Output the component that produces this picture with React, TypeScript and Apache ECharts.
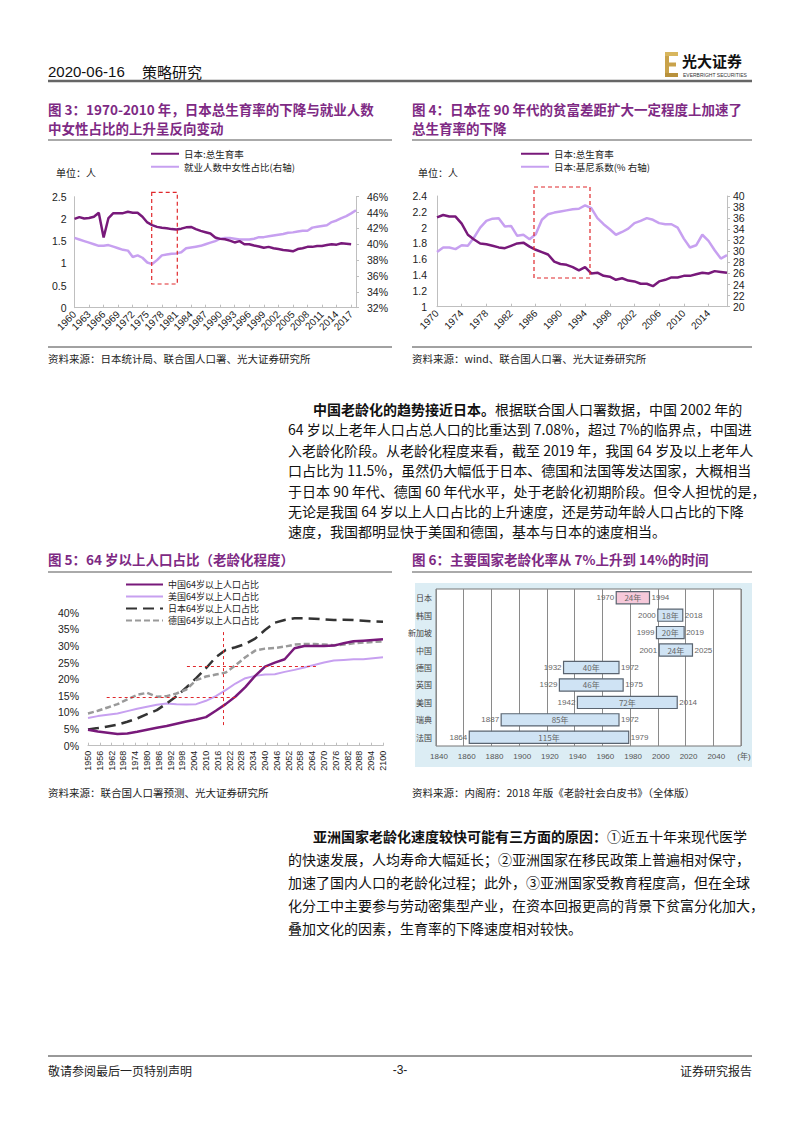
import React, { useEffect, useRef } from 'react';
import * as echarts from 'echarts';

const SANS = '"Liberation Sans", Arial, "Noto Sans CJK SC", sans-serif';
const CJK = '"Noto Sans CJK SC", "Liberation Sans", sans-serif';
const TITLE_PURPLE = '#7E2A84';
const DARK_PURPLE = '#78197A';
const LIGHT_PURPLE = '#C7A0F0';
const RED = '#E0282C';

// ---------- Figure 3 ----------
const fig3Years = ['1960','1961','1962','1963','1964','1965','1966','1967','1968','1969','1970','1971','1972','1973','1974','1975','1976','1977','1978','1979','1980','1981','1982','1983','1984','1985','1986','1987','1988','1989','1990','1991','1992','1993','1994','1995','1996','1997','1998','1999','2000','2001','2002','2003','2004','2005','2006','2007','2008','2009','2010','2011','2012','2013','2014','2015','2016','2017','2018'];
const fig3Tfr = [2.00,2.04,2.01,2.02,2.05,2.14,1.58,2.02,2.13,2.13,
  2.13,2.16,2.14,2.14,2.05,1.92,1.86,1.82,1.80,1.79,
  1.77,1.76,1.78,1.81,1.82,1.77,1.73,1.70,1.67,1.58,
  1.55,1.54,1.51,1.47,1.50,1.43,1.43,1.40,1.38,1.35,
  1.37,1.34,1.32,1.30,1.29,1.27,1.32,1.34,1.37,1.37,
  1.39,1.39,1.41,1.43,1.42,1.45,1.44,1.43,null];
const fig3Female = [40.8,40.6,40.4,40.2,40.0,39.8,39.8,39.9,39.7,39.5,
  39.3,39.2,38.4,38.6,38.3,37.7,37.5,38.0,38.6,38.7,
  38.8,38.85,39.0,39.5,39.6,39.7,39.8,40.0,40.2,40.4,
  40.7,40.8,40.8,40.7,40.6,40.6,40.6,40.7,40.9,40.9,
  41.0,41.1,41.2,41.3,41.45,41.5,41.6,41.7,41.7,42.1,
  42.2,42.3,42.4,42.8,43.0,43.3,43.55,43.9,44.3];

// ---------- Figure 4 ----------
const fig4Years = ['1970','1971','1972','1973','1974','1975','1976','1977','1978','1979','1980','1981','1982','1983','1984','1985','1986','1987','1988','1989','1990','1991','1992','1993','1994','1995','1996','1997','1998','1999','2000','2001','2002','2003','2004','2005','2006','2007','2008','2009','2010','2011','2012','2013','2014','2015','2016','2017'];
const fig4Tfr = [2.13,2.16,2.14,2.14,2.05,1.91,1.85,1.80,1.79,1.77,
  1.75,1.74,1.77,1.80,1.81,1.76,1.72,1.69,1.66,1.57,
  1.54,1.53,1.50,1.46,1.50,1.42,1.43,1.39,1.38,1.34,
  1.36,1.33,1.32,1.29,1.29,1.26,1.32,1.34,1.37,1.37,
  1.39,1.39,1.41,1.43,1.42,1.45,1.44,1.43];
const fig4Gini = [29.9,30.7,30.7,30.4,31.1,31.0,32.5,34.3,35.5,35.9,
  36.0,34.5,34.6,32.8,33.0,32.2,33.1,35.7,36.7,37.0,
  37.2,37.4,37.6,37.7,38.3,37.8,36.0,34.9,34.0,33.0,
  33.5,34.1,35.1,35.5,36.0,35.7,35.1,34.9,34.9,34.3,
  32.3,30.7,31.1,33.0,31.9,30.2,28.7,29.3];

// ---------- Figure 5 ----------
const fig5Years = [1950,1955,1960,1965,1970,1975,1980,1985,1990,1995,2000,2005,2010,2015,2020,2025,2030,2035,2040,2045,2050,2055,2060,2065,2070,2075,2080,2085,2090,2095,2100];
const fig5China = [4.8,4.3,3.9,3.5,3.7,4.2,4.8,5.4,5.9,6.6,7.3,7.9,8.6,10.5,12.5,14.8,17.6,21.0,23.8,25.0,26.0,29.3,30.0,30.0,30.0,30.1,30.8,31.4,31.6,31.8,32.0];
const fig5Usa = [8.3,8.9,9.3,9.7,10.4,11.1,11.7,12.3,12.7,12.5,12.4,12.5,13.5,14.9,16.7,18.7,20.3,21.0,21.4,21.5,22.2,22.8,23.5,24.3,25.0,25.6,25.8,26.0,26.0,26.3,26.6];
const fig5Japan = [4.9,5.3,5.8,6.3,7.2,8.2,9.5,10.7,12.7,14.9,17.5,20.3,23.3,26.6,28.8,29.6,30.6,32.2,34.8,37.0,37.8,38.3,38.3,38.2,38.0,37.8,37.9,37.8,37.6,37.4,37.3];
const fig5Germany = [9.7,10.5,11.5,12.5,13.9,15.3,15.9,14.7,14.9,15.7,16.9,19.7,20.8,21.4,22.0,24.2,26.6,28.6,29.2,29.4,29.8,30.4,30.6,30.6,30.4,30.2,30.4,30.8,31.0,31.2,31.4];
const fig5Names = ['中国64岁以上人口占比','美国64岁以上人口占比','日本64岁以上人口占比','德国64岁以上人口占比'];

// ---------- Figure 6 ----------
const fig6Countries = ['日本','韩国','新加坡','中国','德国','英国','美国','瑞典','法国'];
const fig6Start = [1970,2000,1999,2001,1932,1929,1942,1887,1864];
const fig6End = [1994,2018,2019,2025,1972,1975,2014,1972,1979];
const fig6Durations = ['24年','18年','20年','24年','40年','46年','72年','85年','115年'];

// ---------- Page text ----------
const para1 = [
  '根据联合国人口署数据，中国 2002 年的',
  '64 岁以上老年人口占总人口的比重达到 7.08%，超过 7%的临界点，中国进',
  '入老龄化阶段。从老龄化程度来看，截至 2019 年，我国 64 岁及以上老年人',
  '口占比为 11.5%，虽然仍大幅低于日本、德国和法国等发达国家，大概相当',
  '于日本 90 年代、德国 60 年代水平，处于老龄化初期阶段。但令人担忧的是，',
  '无论是我国 64 岁以上人口占比的上升速度，还是劳动年龄人口占比的下降',
  '速度，我国都明显快于美国和德国，基本与日本的速度相当。',
];
const para1Bold = '中国老龄化的趋势接近日本。';
const para2 = [
  '①近五十年来现代医学',
  '的快速发展，人均寿命大幅延长；②亚洲国家在移民政策上普遍相对保守，',
  '加速了国内人口的老龄化过程；此外，③亚洲国家受教育程度高，但在全球',
  '化分工中主要参与劳动密集型产业，在资本回报更高的背景下贫富分化加大，',
  '叠加文化的因素，生育率的下降速度相对较快。',
];
const para2Bold = '亚洲国家老龄化速度较快可能有三方面的原因：';

function txt(x: number, y: number, text: string, o: any = {}) {
  const style: any = {
    text,
    fill: o.color || '#222',
    fontSize: o.size || 12,
    fontFamily: o.family || CJK,
    fontWeight: o.weight || 'normal',
    align: o.align || 'left',
    verticalAlign: 'middle',
  };
  if (o.rich) style.rich = o.rich;
  return { type: 'text', x, y, silent: true, z: o.z ?? 10, style };
}
function ln(x1: number, y1: number, x2: number, y2: number, color: string, width: number, dash?: number[]) {
  return { type: 'line', silent: true, z: 10, shape: { x1, y1, x2, y2 }, style: { stroke: color, lineWidth: width, lineDash: dash } };
}
function dashedRect(x: number, y: number, w: number, h: number) {
  return { type: 'rect', silent: true, z: 20, shape: { x, y, width: w, height: h }, style: { fill: 'none', stroke: RED, lineWidth: 1.2, lineDash: [4, 3] } };
}

function buildOption(): any {
  const axisGray = '#BFBFBF';
  const labelColor = '#222';
  const graphic: any[] = [];

  // header
  graphic.push(txt(48, 71, '2020-06-16', { size: 15, family: SANS, color: '#111' }));
  graphic.push(txt(142, 71, '策略研究', { size: 15, color: '#111' }));
  graphic.push({ type: 'rect', silent: true, z: 10, shape: { x: 665, y: 52, width: 4, height: 25 }, style: { fill: '#C9A24A' } });
  graphic.push({ type: 'rect', silent: true, z: 10, shape: { x: 665, y: 52, width: 13, height: 4 }, style: { fill: '#D8B65E' } });
  graphic.push({ type: 'rect', silent: true, z: 10, shape: { x: 665, y: 62.5, width: 11, height: 4 }, style: { fill: '#C9A24A' } });
  graphic.push({ type: 'rect', silent: true, z: 10, shape: { x: 665, y: 73, width: 13, height: 4 }, style: { fill: '#B8913C' } });
  graphic.push(txt(682, 60, '光大证券', { size: 15, weight: 'bold', color: '#111' }));
  graphic.push(txt(683, 74.5, 'EVERBRIGHT SECURITIES', { size: 5, family: SANS, color: '#333' }));
  graphic.push(ln(48, 81, 752, 81, '#666', 2.5));

  // titles fig 3 / 4
  const tOpts = { size: 13.5, weight: 'bold', color: TITLE_PURPLE };
  graphic.push(txt(48, 109, '图 3：1970-2010 年，日本总生育率的下降与就业人数', tOpts));
  graphic.push(txt(48, 128, '中女性占比的上升呈反向变动', tOpts));
  graphic.push(ln(48, 140, 392, 140, '#AAAAAA', 2));
  graphic.push(txt(412, 109, '图 4：日本在 90 年代的贫富差距扩大一定程度上加速了', tOpts));
  graphic.push(txt(412, 128, '总生育率的下降', tOpts));
  graphic.push(ln(412, 140, 752, 140, '#AAAAAA', 2));

  graphic.push(txt(56, 172, '单位：人', { size: 10 }));
  graphic.push(txt(418, 172, '单位：人', { size: 10 }));

  graphic.push(dashedRect(151.7, 192.3, 25.6, 91.7));
  graphic.push(dashedRect(534, 187, 56, 91));

  graphic.push(ln(48, 347, 392, 347, '#444', 1));
  graphic.push(ln(412, 347, 752, 347, '#444', 1));
  graphic.push(txt(48, 358, '资料来源：日本统计局、联合国人口署、光大证券研究所', { size: 10.5 }));
  graphic.push(txt(412, 358, '资料来源：wind、联合国人口署、光大证券研究所', { size: 10.5 }));

  // paragraph 1
  const bodyRich = { b: { fontWeight: 'bold', fontSize: 14, fontFamily: CJK, fill: '#111', color: '#111' } };
  para1.forEach((line, i) => {
    if (i === 0) {
      graphic.push(txt(313, 409, '{b|' + para1Bold + '}' + line, { size: 14, color: '#111', rich: bodyRich }));
    } else {
      graphic.push(txt(288, 409 + i * 20.4, line, { size: 14, color: '#111' }));
    }
  });

  // titles fig 5 / 6
  graphic.push(txt(48, 559, '图 5：64 岁以上人口占比（老龄化程度）', tOpts));
  graphic.push(ln(48, 572, 392, 572, '#AAAAAA', 2));
  graphic.push(txt(412, 559, '图 6：主要国家老龄化率从 7%上升到 14%的时间', tOpts));
  graphic.push(ln(412, 572, 752, 572, '#AAAAAA', 2));

  // fig6 panel background
  graphic.push({ type: 'rect', silent: true, z: -10, shape: { x: 415, y: 583, width: 337, height: 184 }, style: { fill: '#DCEDF4' } });

  graphic.push(txt(48, 792, '资料来源：联合国人口署预测、光大证券研究所', { size: 10.5 }));
  graphic.push(txt(412, 792, '资料来源：内阁府：2018 年版《老龄社会白皮书》（全体版）', { size: 10.5 }));

  // paragraph 2
  para2.forEach((line, i) => {
    if (i === 0) {
      graphic.push(txt(313, 836, '{b|' + para2Bold + '}' + line, { size: 14, color: '#111', rich: bodyRich }));
    } else {
      graphic.push(txt(288, 836 + i * 23, line, { size: 14, color: '#111' }));
    }
  });

  // footer
  graphic.push(ln(48, 1056, 752, 1056, '#333', 1));
  graphic.push(txt(48, 1070, '敬请参阅最后一页特别声明', { size: 12, color: '#222' }));
  graphic.push(txt(400, 1070, '-3-', { size: 12, color: '#222', align: 'center', family: SANS }));
  graphic.push(txt(752, 1070, '证券研究报告', { size: 12, color: '#222', align: 'right' }));

  const legendBase = {
    orient: 'vertical', padding: 0, itemHeight: 10, itemGap: 2.5,
    itemStyle: { opacity: 0, borderWidth: 0 },
    textStyle: { fontSize: 9.5, lineHeight: 10.5, color: '#222', fontFamily: CJK },
  };

  return {
    animation: false,
    backgroundColor: '#fff',
    textStyle: { fontFamily: SANS },
    graphic: { elements: graphic },
    legend: [
      { ...legendBase, data: ['日本:总生育率', '就业人数中女性占比(右轴)'], left: 150, top: 148.5, itemWidth: 28 },
      { ...legendBase, data: ['日本:总生育率', '日本:基尼系数(% 右轴)'], left: 520, top: 148.5, itemWidth: 28 },
      {
        ...legendBase, data: fig5Names, left: 125, top: 579.5, itemWidth: 37, itemGap: 2,
        textStyle: { fontSize: 9, lineHeight: 10, color: '#222', fontFamily: CJK },
      },
    ],
    grid: [
      { left: 74.5, top: 196.7, width: 281.5, height: 111 },
      { left: 437, top: 196, width: 290, height: 110.7 },
      { left: 88, top: 612.7, width: 295, height: 133 },
      { left: 436, top: 589, width: 305, height: 157, show: true, backgroundColor: '#fff', borderColor: '#777', borderWidth: 1 },
    ],
    xAxis: [
      {
        gridIndex: 0, type: 'category', data: fig3Years, boundaryGap: false,
        axisLine: { lineStyle: { color: axisGray } },
        axisTick: { show: true, inside: true, length: 3, interval: 2, lineStyle: { color: axisGray } },
        axisLabel: { interval: 2, rotate: 45, fontSize: 10, color: labelColor, margin: 5 },
      },
      {
        gridIndex: 1, type: 'category', data: fig4Years, boundaryGap: false,
        axisLine: { lineStyle: { color: axisGray } },
        axisTick: { show: true, inside: true, length: 3, interval: 3, lineStyle: { color: axisGray } },
        axisLabel: { interval: 3, rotate: 45, fontSize: 10, color: labelColor, margin: 5 },
      },
      {
        gridIndex: 2, type: 'value', min: 1950, max: 2100, interval: 6,
        splitLine: { show: false },
        axisLine: { show: true, lineStyle: { color: axisGray } },
        axisTick: { show: true, inside: true, length: 3, lineStyle: { color: axisGray } },
        axisLabel: { rotate: 90, fontSize: 9, color: labelColor, margin: 5, formatter: (v: number) => String(v) },
      },
      {
        gridIndex: 3, type: 'value', min: 1840, max: 2060, interval: 20,
        splitLine: { show: true, lineStyle: { color: '#8A8A8A', width: 1 } },
        axisLine: { show: false }, axisTick: { show: false },
        axisLabel: { fontSize: 8, color: '#555', margin: 6, padding: [0, 0, 0, 6], formatter: (v: number) => (v === 2060 ? '(年)' : String(v)) },
      },
    ],
    yAxis: [
      {
        gridIndex: 0, type: 'value', min: 0, max: 2.5, interval: 0.5,
        splitLine: { show: false },
        axisLine: { show: true, lineStyle: { color: axisGray } }, axisTick: { show: false },
        axisLabel: { fontSize: 10.5, color: labelColor, margin: 8 },
      },
      {
        gridIndex: 0, type: 'value', min: 32, max: 46, interval: 2, position: 'right',
        splitLine: { show: false },
        axisLine: { show: true, lineStyle: { color: axisGray } },
        axisTick: { show: true, length: 3, lineStyle: { color: axisGray } },
        axisLabel: { fontSize: 10.5, color: labelColor, margin: 11, formatter: '{value}%' },
      },
      {
        gridIndex: 1, type: 'value', min: 1, max: 2.4, interval: 0.2,
        splitLine: { show: false },
        axisLine: { show: true, lineStyle: { color: axisGray } }, axisTick: { show: false },
        axisLabel: { fontSize: 10.5, color: labelColor, margin: 10, formatter: (v: number) => String(Math.round(v * 10) / 10) },
      },
      {
        gridIndex: 1, type: 'value', min: 20, max: 40, interval: 2, position: 'right',
        splitLine: { show: false },
        axisLine: { show: true, lineStyle: { color: axisGray } },
        axisTick: { show: true, length: 3, lineStyle: { color: axisGray } },
        axisLabel: { fontSize: 10.5, color: labelColor, margin: 6 },
      },
      {
        gridIndex: 2, type: 'value', min: 0, max: 40, interval: 5,
        splitLine: { show: false },
        axisLine: { show: false }, axisTick: { show: false },
        axisLabel: { fontSize: 10.5, color: labelColor, margin: 9, formatter: '{value}%' },
      },
      {
        gridIndex: 3, type: 'category', data: fig6Countries, inverse: true,
        axisLine: { show: false }, axisTick: { show: false }, splitLine: { show: false },
        axisLabel: { fontSize: 8, color: '#444', margin: 4, fontFamily: CJK },
      },
    ],
    series: [
      {
        name: '日本:总生育率', type: 'line', xAxisIndex: 0, yAxisIndex: 0, data: fig3Tfr,
        symbol: 'none', lineStyle: { color: DARK_PURPLE, width: 2.5 }, itemStyle: { color: DARK_PURPLE }, z: 3,
      },
      {
        name: '就业人数中女性占比(右轴)', type: 'line', xAxisIndex: 0, yAxisIndex: 1, data: fig3Female,
        symbol: 'none', lineStyle: { color: LIGHT_PURPLE, width: 2.5 }, itemStyle: { color: LIGHT_PURPLE }, z: 2,
      },
      {
        name: '日本:总生育率', type: 'line', xAxisIndex: 1, yAxisIndex: 2, data: fig4Tfr,
        symbol: 'none', lineStyle: { color: DARK_PURPLE, width: 2.5 }, itemStyle: { color: DARK_PURPLE }, z: 3,
      },
      {
        name: '日本:基尼系数(% 右轴)', type: 'line', xAxisIndex: 1, yAxisIndex: 3, data: fig4Gini,
        symbol: 'none', lineStyle: { color: LIGHT_PURPLE, width: 2.5 }, itemStyle: { color: LIGHT_PURPLE }, z: 2,
      },
      {
        name: fig5Names[0], type: 'line', xAxisIndex: 2, yAxisIndex: 4,
        data: fig5Years.map((y, i) => [y, fig5China[i]]),
        symbol: 'none', lineStyle: { color: DARK_PURPLE, width: 2.5 }, itemStyle: { color: DARK_PURPLE }, z: 4,
        markLine: {
          silent: true, symbol: ['none', 'none'], label: { show: false },
          lineStyle: { color: RED, type: [3, 3], width: 1 },
          data: [
            [{ coord: [2019, 6.2] }, { coord: [2019, 34.3] }],
            [{ coord: [2000.3, 24] }, { coord: [2066.3, 24] }],
            [{ coord: [1959.5, 14.7] }, { coord: [2025.6, 14.7] }],
          ],
        },
      },
      {
        name: fig5Names[1], type: 'line', xAxisIndex: 2, yAxisIndex: 4,
        data: fig5Years.map((y, i) => [y, fig5Usa[i]]),
        symbol: 'none', lineStyle: { color: LIGHT_PURPLE, width: 2 }, itemStyle: { color: LIGHT_PURPLE }, z: 2,
      },
      {
        name: fig5Names[2], type: 'line', xAxisIndex: 2, yAxisIndex: 4,
        data: fig5Years.map((y, i) => [y, fig5Japan[i]]),
        symbol: 'none', lineStyle: { color: '#333333', width: 2.5, type: [11, 6] }, itemStyle: { color: '#333333' }, z: 3,
      },
      {
        name: fig5Names[3], type: 'line', xAxisIndex: 2, yAxisIndex: 4,
        data: fig5Years.map((y, i) => [y, fig5Germany[i]]),
        symbol: 'none', lineStyle: { color: '#9A9A9A', width: 2.5, type: [6, 3] }, itemStyle: { color: '#9A9A9A' }, z: 3,
      },
      {
        type: 'custom', xAxisIndex: 3, yAxisIndex: 5,
        data: fig6Countries.map((c, i) => [i, fig6Start[i], fig6End[i]]),
        encode: { x: [1, 2], y: 0 },
        renderItem: (params: any, api: any) => {
          const i = params.dataIndex;
          const cat = api.value(0);
          const p0 = api.coord([api.value(1), cat]);
          const p1 = api.coord([api.value(2), cat]);
          const h = api.size([0, 1])[1] * 0.7;
          const fill = i === 0 ? '#F6C9DA' : '#CFE3F4';
          const ts = { fontSize: 8, fill: '#666', verticalAlign: 'middle' };
          return {
            type: 'group',
            children: [
              { type: 'rect', shape: { x: p0[0], y: p0[1] - h / 2, width: p1[0] - p0[0], height: h }, style: { fill, stroke: '#5A6470', lineWidth: 1.2 } },
              { type: 'text', x: (p0[0] + p1[0]) / 2, y: p0[1], style: { ...ts, text: fig6Durations[i], align: 'center', fontFamily: CJK } },
              { type: 'text', x: p0[0] - 2, y: p0[1], style: { ...ts, text: String(fig6Start[i]), align: 'right', fontFamily: SANS } },
              { type: 'text', x: p1[0] + 2, y: p0[1], style: { ...ts, text: String(fig6End[i]), align: 'left', fontFamily: SANS } },
            ],
          };
        },
      },
    ],
  };
}

export default function App() {
  const ref = useRef<HTMLDivElement>(null);
  useEffect(() => {
    const chart = echarts.init(ref.current as HTMLDivElement, null, { renderer: 'svg' });
    chart.setOption(buildOption());
    return () => chart.dispose();
  }, []);
  return (
    <div
      ref={ref}
      style={{ position: 'absolute', left: 0, top: 0, width: 800, height: 1132, background: '#fff' }}
    />
  );
}
